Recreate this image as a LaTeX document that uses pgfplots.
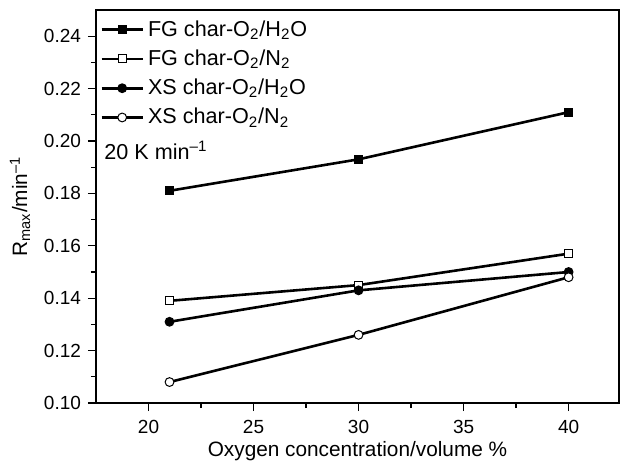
\documentclass[border=0pt]{standalone}
\usepackage{fontspec}
\setmainfont{Liberation Sans}
\usepackage{pgfplots}
\pgfplotsset{compat=1.18}
\begin{document}
\begin{tikzpicture}
\begin{axis}[
  scale only axis,
  width=261.5pt, height=196.5pt,
  xmin=17.5, xmax=42.4, ymin=0.10, ymax=0.25,
  xtick={20,25,30,35,40},
  ytick={0.10,0.12,0.14,0.16,0.18,0.20,0.22,0.24},
  minor x tick num=1, minor y tick num=1,
  tick align=outside,
  xtick pos=bottom, ytick pos=left,
  major tick length=4pt, minor tick length=2.5pt,
  axis line style={line width=0.8pt},
  every tick/.style={black, line width=0.6pt},
  /pgf/number format/assume math mode=true,
  yticklabel style={/pgf/number format/.cd, fixed, fixed zerofill, precision=2},
  ticklabel style={font=\fontsize{9.5}{11}\selectfont},
  xticklabel style={yshift=-1pt},
  xlabel={Oxygen concentration/volume \%},
  ylabel={R\textsubscript{max}/min\textsuperscript{–1}},
  label style={font=\fontsize{10.4}{12}\selectfont},
  xlabel style={at={(rel axis cs:0.5,0)}, anchor=center, yshift=-24pt},
  ylabel style={at={([xshift=-38pt]rel axis cs:0,0.5)}, anchor=center},
  legend style={at={(rel axis cs:0,1)}, anchor=north west, xshift=1pt, yshift=-2pt,
    draw=none, fill=none, font=\fontsize{10.8}{13}\selectfont,
    row sep=1.3pt, inner sep=1pt},
  legend cell align=left,
  legend image code/.code={\draw[mark repeat=2,mark phase=2] plot coordinates {(0pt,0pt) (10.25pt,0pt) (20.5pt,0pt)};},
]
\addplot[black, line width=1.3pt, mark=square*, mark size=2pt, mark options={solid, line width=0.5pt}]
  coordinates {(21,0.181) (30,0.193) (40,0.211)};
\addlegendentry{FG char-O\textsubscript{2}/H\textsubscript{2}O}
\addplot[black, line width=1.3pt, mark=square*, mark size=2pt, mark options={solid, fill=white, line width=0.5pt}]
  coordinates {(21,0.139) (30,0.145) (40,0.157)};
\addlegendentry{FG char-O\textsubscript{2}/N\textsubscript{2}}
\addplot[black, line width=1.3pt, mark=*, mark size=2.2pt, mark options={solid, line width=0.5pt}]
  coordinates {(21,0.131) (30,0.143) (40,0.150)};
\addlegendentry{XS char-O\textsubscript{2}/H\textsubscript{2}O}
\addplot[black, line width=1.3pt, mark=*, mark size=2.2pt, mark options={solid, fill=white, line width=0.5pt}]
  coordinates {(21,0.108) (30,0.126) (40,0.148)};
\addlegendentry{XS char-O\textsubscript{2}/N\textsubscript{2}}
\node[anchor=west, font=\fontsize{10.8}{13}\selectfont, inner sep=0pt] at ([xshift=4pt,yshift=-70pt]rel axis cs:0,1) {20 K min\textsuperscript{–1}};
\end{axis}
\pgfresetboundingbox
\path[use as bounding box] ([shift={(-48pt,-29pt)}]current axis.south west) rectangle ([shift={(0.5pt,5pt)}]current axis.north east);
\end{tikzpicture}
\end{document}
